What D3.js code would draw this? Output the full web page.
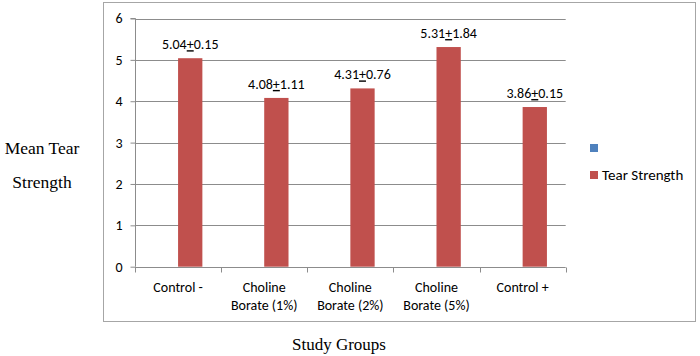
<!DOCTYPE html>
<html>
<head>
<meta charset="utf-8">
<script src="https://cdn.jsdelivr.net/npm/d3@7"></script>
<style>
  body { margin: 0; background: #fff; }
  svg { display: block; }
</style>
</head>
<body>
<svg id="chart" width="700" height="356"></svg>
<script>
const categories = [['Control -'], ['Choline', 'Borate (1%)'], ['Choline', 'Borate (2%)'], ['Choline', 'Borate (5%)'], ['Control +']];
const means = [5.04, 4.08, 4.31, 5.31, 3.86];
const sds = ['0.15', '1.11', '0.76', '1.84', '0.15'];
const seriesNames = ['', 'Tear Strength'];
const seriesColors = ['#4F81BD', '#C0504D'];
const yTicks = [0, 1, 2, 3, 4, 5, 6];

const svg = d3.select('#chart');
const sans = 'Carlito, "Open Sans", sans-serif';
const serif = '"Liberation Serif", "Times New Roman", serif';

// outer chart border
svg.append('rect')
  .attr('x', 103.5).attr('y', 2.5)
  .attr('width', 592).attr('height', 319)
  .attr('fill', 'none').attr('stroke', '#a6a6a6');

const plot = { left: 135, right: 565.7, top: 18.5, bottom: 266.7 };

const x = d3.scaleBand()
  .domain(d3.range(categories.length))
  .range([plot.left, plot.right]);
const x1 = d3.scaleBand()
  .domain(seriesNames.map((d, i) => i))
  .range([x.bandwidth() / 2 - 24.3, x.bandwidth() / 2 + 24.3]);
const y = d3.scaleLinear().domain([0, 6]).range([plot.bottom, plot.top]);

// gridlines
svg.append('g')
  .selectAll('line')
  .data(yTicks.filter(d => d > 0))
  .join('line')
  .attr('x1', plot.left).attr('x2', plot.right)
  .attr('y1', d => Math.round(y(d)) + 0.5).attr('y2', d => Math.round(y(d)) + 0.5)
  .attr('stroke', '#8c8c8c');

// y axis
const yAxis = svg.append('g')
  .attr('transform', `translate(${plot.left + 0.5},0)`)
  .call(d3.axisLeft(y).tickValues(yTicks).tickFormat(d3.format('d')).tickSize(5).tickPadding(8));
yAxis.select('.domain').attr('stroke', '#8c8c8c').attr('d', `M-5,${plot.top}H0V${plot.bottom}`);
yAxis.selectAll('.tick line').attr('stroke', '#8c8c8c');
yAxis.selectAll('.tick text').attr('font-family', sans).attr('font-size', 14).attr('fill', '#000');

// x axis
const xAxisG = svg.append('g')
  .attr('transform', `translate(0,${Math.round(plot.bottom) + 0.5})`);
xAxisG.append('line')
  .attr('x1', plot.left).attr('x2', plot.right)
  .attr('stroke', '#8c8c8c');
xAxisG.selectAll('.xtick')
  .data(d3.range(categories.length + 1))
  .join('line')
  .attr('x1', d => Math.round(plot.left + d * x.step()) + 0.5)
  .attr('x2', d => Math.round(plot.left + d * x.step()) + 0.5)
  .attr('y1', 0).attr('y2', 5)
  .attr('stroke', '#8c8c8c');
xAxisG.selectAll('.xlabel')
  .data(categories)
  .join('text')
  .attr('text-anchor', 'middle')
  .attr('font-family', sans).attr('font-size', 14)
  .each(function (lines, i) {
    d3.select(this).selectAll('tspan')
      .data(lines)
      .join('tspan')
      .attr('x', x(i) + x.bandwidth() / 2)
      .attr('y', (d, j) => 24 + j * 18)
      .text(d => d);
  });

// bars (only the Tear Strength series has values)
svg.append('g')
  .selectAll('rect')
  .data(means)
  .join('rect')
  .attr('x', (d, i) => x(i) + x1(1))
  .attr('y', d => y(d))
  .attr('width', x1.bandwidth())
  .attr('height', d => y(0) - y(d))
  .attr('fill', seriesColors[1]);

// value labels
const labels = svg.append('g')
  .selectAll('text')
  .data(means)
  .join('text')
  .attr('x', (d, i) => x(i) + x1(1) + x1.bandwidth() / 2)
  .attr('y', d => y(d) - 9)
  .attr('text-anchor', 'middle')
  .attr('font-family', sans).attr('font-size', 14);
labels.append('tspan').text(d => d.toFixed(2));
labels.append('tspan').attr('text-decoration', 'underline').text('+');
labels.append('tspan').text((d, i) => sds[i]);

// legend
const legend = svg.append('g')
  .selectAll('g')
  .data(seriesNames)
  .join('g')
  .attr('transform', (d, i) => `translate(590,${144 + i * 27})`);
legend.append('rect')
  .attr('width', 8).attr('height', 8)
  .attr('fill', (d, i) => seriesColors[i]);
legend.append('text')
  .attr('x', 12).attr('y', 9)
  .attr('font-family', sans).attr('font-size', 15)
  .text(d => d);

// axis titles
svg.append('text')
  .attr('font-family', serif).attr('font-size', 17.5)
  .attr('text-anchor', 'middle')
  .selectAll('tspan')
  .data(['Mean Tear', 'Strength'])
  .join('tspan')
  .attr('x', 42)
  .attr('y', (d, i) => 154 + i * 34)
  .text(d => d);

svg.append('text')
  .attr('x', 339).attr('y', 350)
  .attr('font-family', serif).attr('font-size', 17)
  .attr('text-anchor', 'middle')
  .text('Study Groups');
</script>
</body>
</html>
